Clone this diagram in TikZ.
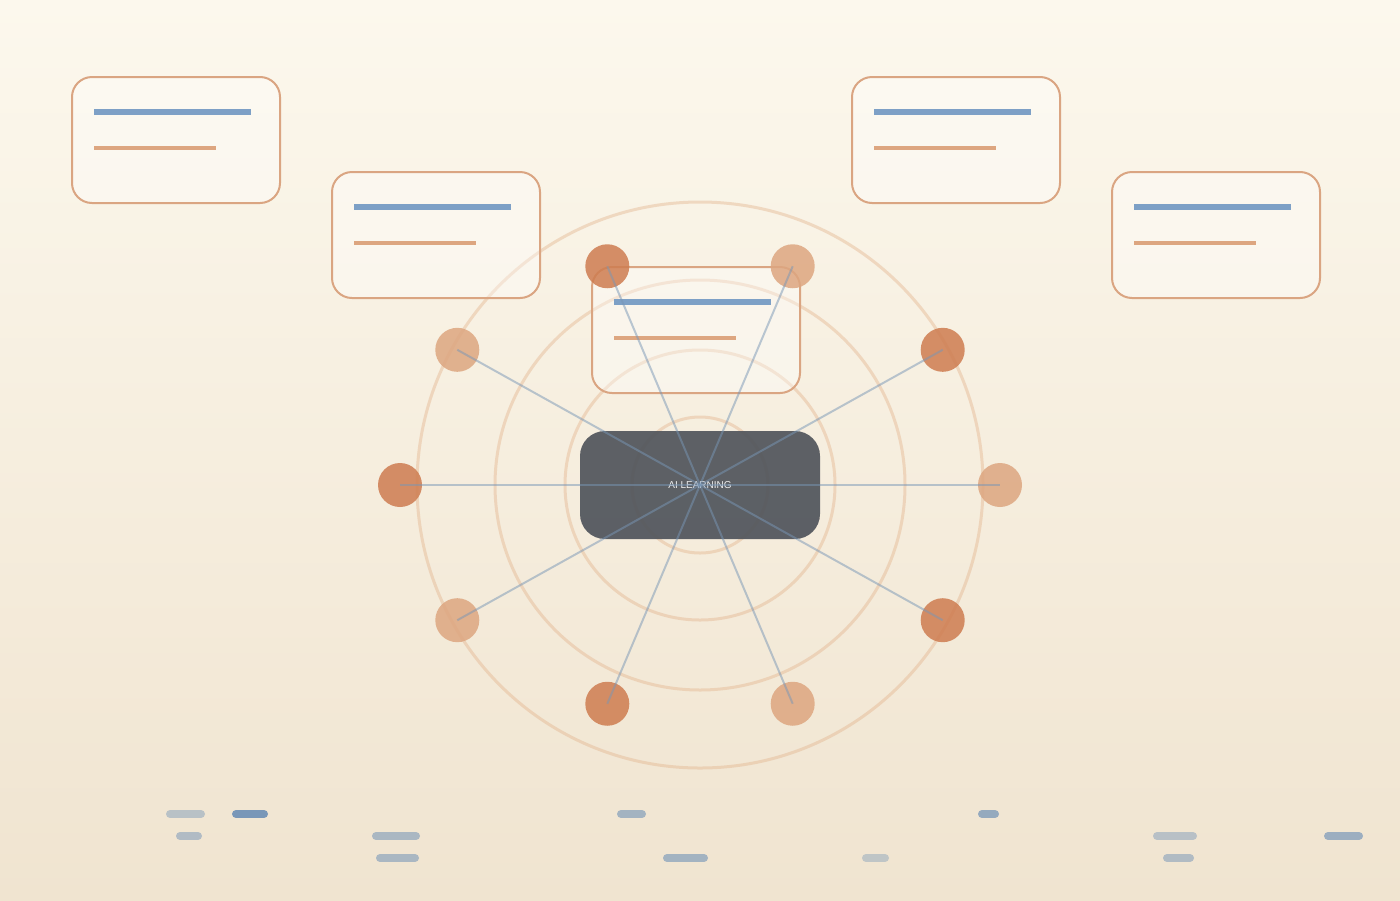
\documentclass[tikz,border=0pt]{standalone}
\usepackage{fontspec}
\setsansfont{Liberation Sans}
\usetikzlibrary{calc}
\definecolor{bgtop}{RGB}{252,248,237}
\definecolor{bgbot}{RGB}{240,228,208}
\definecolor{ringc}{RGB}{226,176,136}
\definecolor{clay}{RGB}{206,124,80}
\definecolor{sand}{RGB}{221,166,128}
\definecolor{edge}{RGB}{218,165,130}
\definecolor{slate}{RGB}{80,84,91}
\definecolor{steel}{RGB}{125,160,198}
\definecolor{spokec}{RGB}{120,150,182}
\definecolor{stubc}{RGB}{100,138,180}
\tikzset{
  ring/.style={draw=ringc, opacity=0.4, line width=1.5pt},
  card/.style={draw=edge, line width=1pt, fill=white, fill opacity=0.35,
    rounded corners=10pt, minimum width=104pt, minimum height=63pt, inner sep=0pt},
  bar/.style={line width=#1},
  hub/.style={fill=slate, fill opacity=0.92, text=white!94!black, text opacity=1,
    rounded corners=12.5pt, minimum width=120pt, minimum height=54pt, inner sep=0pt,
    font=\sffamily\fontsize{5}{6}\selectfont},
  sat/.style={circle, fill=#1, opacity=0.85, minimum size=22pt, inner sep=0pt},
  spoke/.style={draw=spokec, opacity=0.5, line width=1pt},
  stub/.style={draw=stubc, line width=4pt, line cap=round}
}

\begin{document}
\begin{tikzpicture}[x=0.5pt, y=-0.5pt]

    % Background:
    \shade[top color=bgtop, bottom color=bgbot] (0,0) rectangle (1400,900);
    \useasboundingbox (0,0) rectangle (1400,900);

    % Rings:
    \coordinate (mid) at (700,485);
    \foreach \r in {68,135,205,283}
        \draw[ring] (mid) circle[radius=\r];

    % Cards:
    \foreach \n/\x/\y in {1/71/76, 2/331/171, 3/851/76, 4/1111/171, 5/591/266}{
        \node[card, anchor=north west] (card\n) at (\x,\y) {};
        \draw[bar=3pt, steel] ($(card\n.north west)+(23,36)$) -- ++(157,0);
        \draw[bar=2.2pt, sand] ($(card\n.north west)+(23,72)$) -- ++(122,0);
    }

    % Hub:
    \node[hub] (hub) at (mid) {AI LEARNING};

    % Satellites and spokes:
    \foreach \k/\c in {0/sand,1/clay,2/sand,3/clay,4/sand,5/clay,6/sand,7/clay,8/sand,9/clay}{
        \node[sat=\c] (sat\k) at ({700+300*cos(36*\k)},{485-230*sin(36*\k)}) {};
        \draw[spoke] (hub.center) -- (sat\k.center);
    }

    % Legend stubs:
    \foreach \xa/\xb/\y/\o in {170/201/814/0.4, 236/264/814/0.85, 180/198/836/0.45,
        376/416/836/0.5, 380/415/858/0.5, 621/642/814/0.55, 667/704/858/0.55,
        866/885/858/0.35, 982/995/814/0.65, 1157/1193/836/0.4, 1167/1190/858/0.45,
        1328/1359/836/0.6}
        \draw[stub, opacity=\o] (\xa,\y) -- (\xb,\y);

\end{tikzpicture}
\end{document}
